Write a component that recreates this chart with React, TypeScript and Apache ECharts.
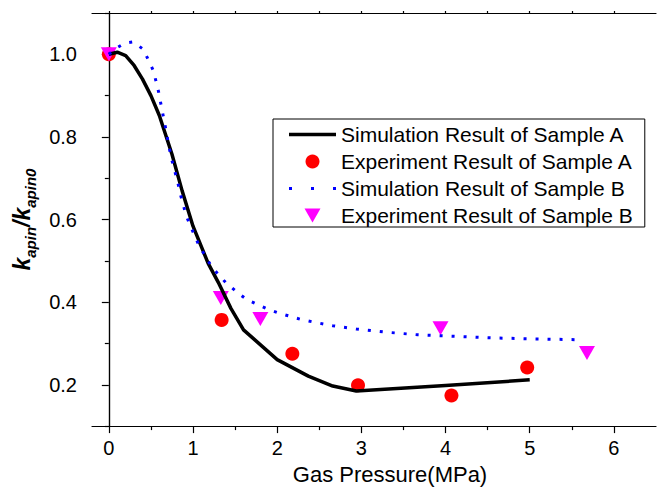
import React, { useEffect, useRef } from "react";
import * as echarts from "echarts";

// Gas pressure (MPa) and normalised permeability k_apin / k_apin0
const simPressureA = [0, 0.1, 0.2, 0.3, 0.4, 0.5, 0.6, 0.75, 0.87, 1.0, 1.18, 1.3, 1.45, 1.6, 2.0, 2.37, 2.66, 2.94, 4.0, 5.0];
const simRatioA = [1.0, 1.005, 0.997, 0.973, 0.94, 0.9, 0.852, 0.758, 0.67, 0.584, 0.494, 0.448, 0.385, 0.333, 0.261, 0.221, 0.197, 0.185, 0.198, 0.212];

const expPressureA = [0, 1.34, 2.18, 2.96, 4.07, 4.97];
const expRatioA = [1.0, 0.357, 0.275, 0.199, 0.174, 0.242];

const simPressureB = [0, 0.08, 0.19, 0.29, 0.41, 0.53, 0.59, 0.62, 0.67, 0.72, 0.75, 0.82, 0.85, 0.92, 0.96, 1.07, 1.22, 1.39, 1.53, 1.64, 1.78, 1.89, 2.03, 2.27, 2.45, 2.66, 2.94, 3.26, 3.67, 4.14, 4.64, 5.09, 5.59];
const simRatioB = [1.0, 1.014, 1.027, 1.03, 1.012, 0.96, 0.91, 0.878, 0.826, 0.771, 0.743, 0.689, 0.661, 0.609, 0.589, 0.538, 0.486, 0.447, 0.423, 0.406, 0.393, 0.383, 0.373, 0.359, 0.351, 0.343, 0.335, 0.328, 0.321, 0.317, 0.313, 0.311, 0.309];

const expPressureB = [0, 1.33, 1.8, 3.94, 5.68];
const expRatioB = [1.0, 0.41, 0.359, 0.337, 0.277];

const seriesNames = [
  "Simulation Result of Sample A",
  "Experiment Result of Sample A",
  "Simulation Result of Sample B",
  "Experiment Result of Sample B",
];

const xMajorTicks = [0, 1, 2, 3, 4, 5, 6];
const xMinorTicks = [0.5, 1.5, 2.5, 3.5, 4.5, 5.5];
const xTopTicks = [0, 0.5, 1, 1.5, 2, 2.5, 3, 3.5, 4, 4.5, 5, 5.5, 6];
const yMajorTicks = [0.2, 0.4, 0.6, 0.8, 1.0];
const yMinorTicks = [0.1, 0.3, 0.5, 0.7, 0.9, 1.1];

const xRange = { min: -0.2, max: 6.5 };
const yRange = { min: 0.1, max: 1.1 };

const zip = (xs: number[], ys: number[]) => xs.map((x, i) => [x, ys[i]]);

const FONT = "'Liberation Sans', Arial, Helvetica, sans-serif";

// Legend box layout
const LEGEND_LEFT = 273;
const LEGEND_TOP = 119;
const LEGEND_PAD = [5, 12, 1, 16];
const LEGEND_ROW = 27;
const LEGEND_ICON_W = 47;

// Legend glyphs: solid bar and down-pointing triangle
const ICON_SOLID = "path://M0,0h47v3.5h-47z";
const ICON_TRIANGLE_DOWN = "path://M0,0L16,0L8,14Z";
const ICON_BLANK = "path://M0,0h1v1h-1z";

export default function App() {
  const ref = useRef<HTMLDivElement>(null);

  useEffect(() => {
    if (!ref.current) return;
    const chart = echarts.init(ref.current, null, { renderer: "svg" });

    const axisLine = { show: true, lineStyle: { color: "#000", width: 1.2 } };

    // three blue dots standing for the dotted simulation line of sample B
    const dotRowY = LEGEND_TOP + LEGEND_PAD[0] + LEGEND_ROW * 2 + 10.5;
    const dotX0 = LEGEND_LEFT + LEGEND_PAD[3];
    const legendDots = [0, 0.5, 1].map((f) => ({
      type: "rect",
      shape: { x: dotX0 + f * (LEGEND_ICON_W - 3), y: dotRowY - 1.5, width: 3, height: 3 },
      style: { fill: "#0000ff" },
      z: 100,
      silent: true,
    }));

    const option: any = {
      animation: false,
      backgroundColor: "#fff",
      textStyle: { fontFamily: FONT },
      grid: { left: 92, top: 13, right: 1, bottom: 63, containLabel: false },
      xAxis: [
        {
          type: "value",
          ...xRange,
          position: "bottom",
          axisLine,
          axisTick: { show: true, length: 7, customValues: xMajorTicks, lineStyle: { color: "#000", width: 1.2 } },
          axisLabel: { show: true, customValues: xMajorTicks, fontSize: 20, color: "#000", margin: 12, fontFamily: FONT },
          splitLine: { show: false },
          name: "Gas Pressure(MPa)",
          nameLocation: "middle",
          nameGap: 30,
          nameTextStyle: { fontSize: 22, color: "#000", fontFamily: FONT, padding: [0, 0, 0, 32] },
        },
        {
          type: "value",
          ...xRange,
          position: "bottom",
          axisLine: { show: false },
          axisTick: { show: true, length: 4, customValues: xMinorTicks, lineStyle: { color: "#000", width: 1.2 } },
          axisLabel: { show: false },
          splitLine: { show: false },
        },
        {
          type: "value",
          ...xRange,
          position: "top",
          axisLine,
          axisTick: { show: true, length: 2, customValues: xTopTicks, lineStyle: { color: "#000", width: 1.2 } },
          axisLabel: { show: false },
          splitLine: { show: false },
        },
      ],
      yAxis: [
        {
          type: "value",
          ...yRange,
          position: "left",
          axisLine,
          axisTick: { show: true, length: 7, customValues: yMajorTicks, lineStyle: { color: "#000", width: 1.2 } },
          axisLabel: {
            show: true,
            customValues: yMajorTicks,
            formatter: (v: number) => v.toFixed(1),
            fontSize: 20,
            color: "#000",
            margin: 15,
            fontFamily: FONT,
          },
          splitLine: { show: false },
          name: "{k|k}{s|apin}{k|/k}{s|apin0}",
          nameLocation: "middle",
          nameRotate: 90,
          nameGap: 54,
          nameTextStyle: {
            rich: {
              k: { fontSize: 23, fontWeight: "bold", fontStyle: "italic", color: "#000", fontFamily: FONT, lineHeight: 32, verticalAlign: "middle" },
              s: { fontSize: 15, fontWeight: "bold", fontStyle: "italic", color: "#000", fontFamily: FONT, lineHeight: 15, verticalAlign: "bottom" },
            },
          },
        },
        {
          type: "value",
          ...yRange,
          position: "left",
          axisLine: { show: false },
          axisTick: { show: true, length: 4, customValues: yMinorTicks, lineStyle: { color: "#000", width: 1.2 } },
          axisLabel: { show: false },
          splitLine: { show: false },
        },
        {
          type: "value",
          ...yRange,
          position: "right",
          axisLine,
          axisTick: { show: false },
          axisLabel: { show: false },
          splitLine: { show: false },
        },
      ],
      legend: {
        orient: "vertical",
        left: LEGEND_LEFT,
        top: LEGEND_TOP,
        padding: LEGEND_PAD,
        itemGap: 6,
        itemWidth: LEGEND_ICON_W,
        itemHeight: 14,
        symbolKeepAspect: true,
        borderColor: "#000",
        borderWidth: 1,
        backgroundColor: "#fff",
        textStyle: { fontSize: 21, color: "#000", fontFamily: FONT },
        data: [
          { name: seriesNames[0], icon: ICON_SOLID, itemStyle: { color: "#000", borderWidth: 0 } },
          { name: seriesNames[1], icon: "circle", itemStyle: { color: "#ff0000", borderWidth: 0 } },
          {
            name: seriesNames[2],
            icon: ICON_BLANK,
            itemStyle: { color: "rgba(0,0,0,0)", borderWidth: 0 },
            lineStyle: { width: 0, opacity: 0 },
          },
          { name: seriesNames[3], icon: ICON_TRIANGLE_DOWN, symbolRotate: 0, itemStyle: { color: "#ff00ff", borderWidth: 0 } },
        ],
      },
      graphic: legendDots,
      series: [
        {
          name: seriesNames[0],
          type: "line",
          data: zip(simPressureA, simRatioA),
          showSymbol: false,
          symbol: "none",
          smooth: false,
          lineStyle: { color: "#000", width: 3.5, join: "round" },
          itemStyle: { color: "#000" },
        },
        {
          name: seriesNames[1],
          type: "scatter",
          data: zip(expPressureA, expRatioA),
          symbol: "circle",
          symbolSize: 14,
          itemStyle: { color: "#ff0000", opacity: 1 },
        },
        {
          name: seriesNames[2],
          type: "line",
          data: zip(simPressureB, simRatioB),
          showSymbol: false,
          symbol: "none",
          smooth: false,
          lineStyle: { color: "#0000ff", width: 3, type: [3, 9] },
          itemStyle: { color: "#0000ff" },
        },
        {
          name: seriesNames[3],
          type: "scatter",
          data: zip(expPressureB, expRatioB),
          symbol: "triangle",
          symbolRotate: 180,
          symbolSize: [16, 14],
          itemStyle: { color: "#ff00ff", opacity: 1 },
        },
      ],
    };

    chart.setOption(option);
    return () => chart.dispose();
  }, []);

  return <div ref={ref} style={{ width: 657, height: 490, position: "absolute", left: 0, top: 0 }} />;
}
